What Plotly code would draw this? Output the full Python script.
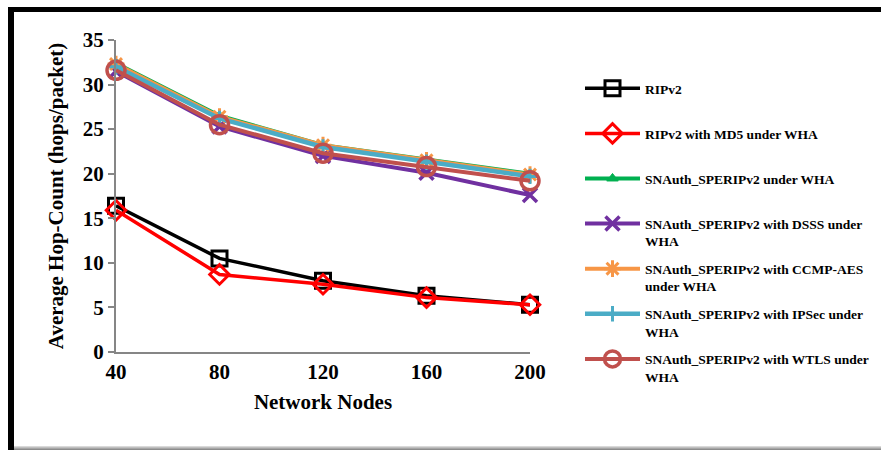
import plotly.graph_objects as go

nodes = [40, 80, 120, 160, 200]
ripv2 = [16.4, 10.5, 8.0, 6.3, 5.3]
ripv2_md5 = [15.9, 8.7, 7.6, 6.1, 5.3]
snauth = [32.4, 26.5, 23.2, 21.6, 20.0]
snauth_dsss = [31.5, 25.3, 22.0, 20.1, 17.6]
snauth_ccmp = [32.3, 26.4, 23.2, 21.5, 19.9]
snauth_ipsec = [32.0, 26.2, 23.0, 21.3, 19.7]
snauth_wtls = [31.6, 25.5, 22.3, 20.8, 19.2]

names = [
    "RIPv2<br> ",
    "RIPv2 with MD5 under WHA<br> ",
    "SNAuth_SPERIPv2 under WHA<br> ",
    "SNAuth_SPERIPv2 with DSSS under<br>WHA",
    "SNAuth_SPERIPv2 with CCMP-AES<br>under WHA",
    "SNAuth_SPERIPv2 with IPSec under<br>WHA",
    "SNAuth_SPERIPv2 with WTLS under<br>WHA",
]

FONT = "Liberation Serif"

fig = go.Figure()

def add(y, name, color, symbol, size, lw, mlw, fill=None, order=0):
    fig.add_trace(go.Scatter(
        x=nodes, y=y, name=name, mode="lines+markers",
        line=dict(color=color, width=lw),
        marker=dict(symbol=symbol, size=size, color=fill if fill else color,
                    line=dict(color=color, width=mlw)),
        legendgroup=name, legendrank=order,
    ))

add(ripv2, names[0], "#000000", "square-open", 15, 3.5, 3, order=1)
add(ripv2_md5, names[1], "#FF0000", "diamond-open", 15, 3.5, 3, order=2)
add(snauth, names[2], "#00B050", "triangle-up", 10, 4, 1, order=3)
add(snauth_dsss, names[3], "#7030A0", "x-thin-open", 14, 4, 3.5, order=4)
add(snauth_ccmp, names[4], "#F79646", "asterisk-open", 14, 4, 3, order=5)
add(snauth_ipsec, names[5], "#4BACC6", "cross-thin-open", 11, 4.5, 3, order=6)
add(snauth_wtls, names[6], "#C0504D", "circle-open", 18, 4, 3.5, order=7)

W, H = 881, 450
L, R, T, B = 116, 881 - 530, 40, 450 - 352
pw, ph = W - L - R, H - T - B

def px(x):
    return (x - L) / pw

def py(y):
    return (H - B - y) / ph

shapes = [
    dict(type="rect", xref="paper", yref="paper", x0=px(8), x1=px(14), y0=py(452), y1=py(7),
         fillcolor="#000000", line=dict(width=0), layer="above"),
    dict(type="rect", xref="paper", yref="paper", x0=px(8), x1=px(884), y0=py(12), y1=py(7),
         fillcolor="#000000", line=dict(width=0), layer="above"),
]
for i, c in enumerate(["#d9d9d9", "#bfbfbf", "#a6a6a6", "#8c8c8c", "#7f7f7f"]):
    shapes.append(dict(type="rect", xref="paper", yref="paper", x0=px(14), x1=px(884),
                       y0=py(446 + i + 1), y1=py(446 + i), fillcolor=c, line=dict(width=0)))

fig.update_layout(
    width=W, height=H,
    margin=dict(l=L, r=R, t=T, b=B, autoexpand=False),
    paper_bgcolor="white", plot_bgcolor="white",
    font=dict(family=FONT, color="#000000"),
    showlegend=True,
    legend=dict(
        x=px(580), y=py(73), xanchor="left", yanchor="top",
        font=dict(family=FONT, size=13.5, color="#000000", weight="bold"),
        tracegroupgap=7, valign="top", itemwidth=55, maxheight=440,
        bgcolor="rgba(0,0,0,0)",
    ),
    xaxis=dict(
        range=[40, 200], tickvals=nodes, ticktext=[str(n) for n in nodes],
        showline=True, linecolor="#868686", linewidth=2, ticks="",
        showgrid=False, zeroline=False,
        tickfont=dict(family=FONT, size=21, weight="bold"),
        title=dict(text="Network Nodes", font=dict(family=FONT, size=21, weight="bold"), standoff=11),
    ),
    yaxis=dict(
        range=[0, 35], dtick=5,
        showline=True, linecolor="#868686", linewidth=2,
        ticks="outside", ticklen=6, tickcolor="#868686", tickwidth=2,
        showgrid=False, zeroline=False,
        tickfont=dict(family=FONT, size=21, weight="bold"),
        title=dict(text="Average Hop-Count (hops/packet)",
                   font=dict(family=FONT, size=21, weight="bold"), standoff=13),
    ),
    shapes=shapes,
)

fig.update_traces(cliponaxis=False)
fig.write_html(
    "out.html",
    config={"displayModeBar": False},
    post_script="document.body.style.margin='0';document.body.style.overflow='hidden';",
)
